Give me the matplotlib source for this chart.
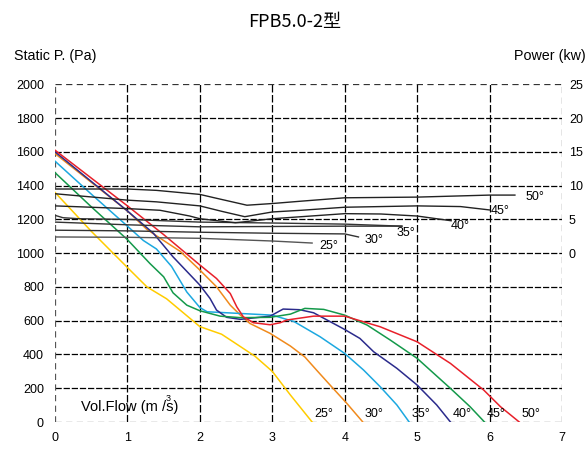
import matplotlib
matplotlib.use("Agg")
import matplotlib.pyplot as plt

plt.rcParams['font.family'] = ['Liberation Sans', 'Noto Sans CJK SC', 'DejaVu Sans']

# pressure curves (Vol.Flow m3/s, Static P. Pa)
angulos = ["25°", "30°", "35°", "40°", "45°", "50°"]

amarelo_x = [0, 0.5, 1.0, 1.27, 1.54, 2.0, 2.3, 2.46, 2.76, 3.0, 3.25, 3.55]
amarelo_p = [1360, 1130, 915, 800, 730, 565, 520, 475, 390, 300, 160, 0]

laranja_x = [0, 0.5, 1.0, 1.27, 1.73, 2.0, 2.23, 2.42, 2.56, 2.69, 2.97, 3.25, 3.45, 3.61, 3.84, 4.03, 4.25]
laranja_p = [1590, 1420, 1250, 1140, 1010, 900, 801, 692, 633, 584, 525, 450, 385, 308, 199, 110, 0]

ciano_x = [0, 0.5, 1.0, 1.22, 1.40, 1.61, 1.82, 2.0, 2.10, 2.46, 3.0, 3.3, 3.66, 4.0, 4.26, 4.49, 4.72, 4.89]
ciano_p = [1545, 1350, 1160, 1075, 1025, 921, 770, 678, 653, 645, 633, 595, 505, 406, 308, 209, 101, 0]

azul_x = [0, 0.5, 1.0, 1.36, 1.63, 2.0, 2.14, 2.23, 2.37, 2.56, 2.97, 3.15, 3.38, 3.57, 4.0, 4.21, 4.40, 4.72, 5.0, 5.27, 5.46]
azul_p = [1600, 1425, 1250, 1117, 978, 811, 732, 663, 620, 608, 627, 669, 665, 647, 548, 495, 416, 318, 219, 101, 0]

verde_x = [0, 0.5, 1.0, 1.31, 1.50, 1.63, 1.82, 2.0, 2.28, 2.56, 2.97, 3.25, 3.45, 3.71, 4.0, 4.31, 4.63, 5.0, 5.46, 5.73, 5.93]
verde_p = [1477, 1275, 1080, 939, 860, 765, 692, 659, 627, 618, 620, 639, 673, 667, 633, 574, 485, 377, 199, 91, 0]

vermelho_x = [0, 0.5, 1.0, 1.5, 2.0, 2.23, 2.42, 2.51, 2.60, 2.74, 2.97, 3.11, 3.2, 3.57, 4.0, 4.49, 5.0, 5.46, 5.92, 6.15, 6.41]
vermelho_p = [1610, 1445, 1280, 1110, 930, 850, 761, 682, 623, 588, 576, 588, 604, 627, 627, 564, 475, 347, 189, 91, 0]

# power curves (Vol.Flow, kw)
pot50_x = [0, 1.0, 1.4, 2.0, 2.2, 2.65, 3.0, 3.4, 4.0, 5.0, 6.0, 6.35]
pot50_k = [9.5, 9.5, 9.3, 8.7, 8.2, 7.1, 7.35, 7.7, 8.2, 8.3, 8.6, 8.6]

pot45_x = [0, 1.0, 1.4, 2.0, 2.3, 2.62, 3.0, 3.4, 4.0, 5.0, 5.6, 6.0]
pot45_k = [8.8, 7.85, 7.6, 7.0, 6.2, 5.4, 6.1, 6.35, 6.8, 7.0, 6.9, 6.4]

pot40_x = [0, 0.5, 1.0, 1.45, 1.86, 2.0, 2.49, 3.0, 4.0, 4.5, 5.0, 5.47]
pot40_k = [7.0, 6.8, 6.6, 6.35, 5.5, 5.1, 4.5, 5.1, 5.85, 5.8, 5.5, 4.8]

pot35_x = [0, 0.11, 0.33, 1.0, 2.0, 3.1, 4.0, 4.79]
pot35_k = [5.6, 5.25, 5.1, 5.0, 4.6, 4.45, 4.3, 4.0]

pot35b_x = [0, 1.0, 2.0, 3.0, 4.0, 4.79]
pot35b_k = [4.6, 4.2, 3.9, 3.95, 4.0, 4.0]

pot30_x = [0, 1.0, 2.0, 3.0, 4.0, 4.19]
pot30_k = [3.4, 3.3, 3.1, 2.95, 2.85, 2.4]

pot25_x = [0, 1.0, 2.0, 3.0, 3.55]
pot25_k = [2.4, 2.35, 2.2, 1.8, 1.5]

cores = ["#ffcc00", "#f08a1c", "#1ca8e0", "#2b2b8c", "#14994a", "#e8202a"]


def desenhar_grade(ax):
    for x in range(1, 7):
        ax.plot([x, x], [0, 2000], color="black", lw=0.9, dashes=(6, 2), zorder=1)
    for y in range(200, 2000, 200):
        ax.plot([0, 7], [y, y], color="black", lw=0.9, dashes=(5, 1.5), zorder=1)
    # moldura tracejada
    ax.plot([0, 7], [2000, 2000], color="#333333", lw=0.9, dashes=(5, 3.5), zorder=1)
    ax.plot([0, 7], [0, 0], color="#555555", lw=0.9, dashes=(5, 3.5), zorder=1)
    ax.plot([0, 0], [0, 2000], color="#555555", lw=0.9, dashes=(5, 3.5), zorder=1)
    ax.plot([7, 7], [0, 2000], color="#333333", lw=0.9, dashes=(5, 3.5), zorder=1)


def gerar_grafico():
    fig = plt.figure(figsize=(5.87, 4.49), dpi=100)
    ax = fig.add_axes([0.0937, 0.0601, 0.8637, 0.7521])
    ax2 = ax.twinx()

    ax.set_xlim(0, 7)
    ax.set_ylim(0, 2000)
    ax2.set_ylim(-25, 25)
    for a in (ax, ax2):
        for s in a.spines.values():
            s.set_visible(False)

    desenhar_grade(ax)

    curvas = [(amarelo_x, amarelo_p), (laranja_x, laranja_p), (ciano_x, ciano_p),
              (azul_x, azul_p), (verde_x, verde_p), (vermelho_x, vermelho_p)]
    for (xs, ps), cor, rot in zip(curvas, cores, angulos):
        ax.plot(xs, ps, color=cor, lw=1.1, zorder=3)
        ax.text(xs[-1] + 0.03, 45, rot, fontsize=9, ha="left", va="center", zorder=4)

    potencias = [(pot25_x, pot25_k, "#555555"), (pot30_x, pot30_k, "#333333"),
                 (pot35b_x, pot35b_k, "#333333"), (pot35_x, pot35_k, "#333333"),
                 (pot40_x, pot40_k, "#222222"), (pot45_x, pot45_k, "#222222"),
                 (pot50_x, pot50_k, "#222222")]
    for xs, ks, cor in potencias:
        ax2.plot(xs, ks, color=cor, lw=1.0, zorder=3)

    rot_pot = [(3.65, 1.05, "25°"), (4.28, 1.95, "30°"), (4.72, 2.95, "35°"),
               (5.47, 4.0, "40°"), (6.01, 6.25, "45°"), (6.5, 8.3, "50°")]
    for x, k, txt in rot_pot:
        ax2.text(x, k, txt, fontsize=9, ha="left", va="center")

    ax.set_xticks(range(0, 8))
    ax.set_yticks(range(0, 2001, 200))
    ax2.set_yticks(range(0, 26, 5))
    ax.tick_params(axis="both", length=0, labelsize=9)
    ax.tick_params(axis="x", pad=7)
    ax.tick_params(axis="y", pad=8)
    ax2.tick_params(axis="y", length=0, labelsize=9, pad=5)

    ax.text(0.36, 90, "Vol.Flow (m /s)", fontsize=10.5, ha="left", va="center", zorder=4)
    ax.text(1.53, 138, "3", fontsize=6.5, ha="left", va="center", zorder=4)

    fig.text(294.5 / 587, 1 - 22 / 449, "FPB5.0-2型", fontsize=13, ha="center", va="center",
             family=["Noto Sans CJK SC", "DejaVu Sans"])
    fig.text(14 / 587, 1 - 56 / 449, "Static P. (Pa)", fontsize=10.3, ha="left", va="center")
    fig.text(586 / 587, 1 - 56 / 449, "Power (kw)", fontsize=10.3, ha="right", va="center")

    fig.savefig("out.png", dpi=100)


if __name__ == "__main__":
    gerar_grafico()
